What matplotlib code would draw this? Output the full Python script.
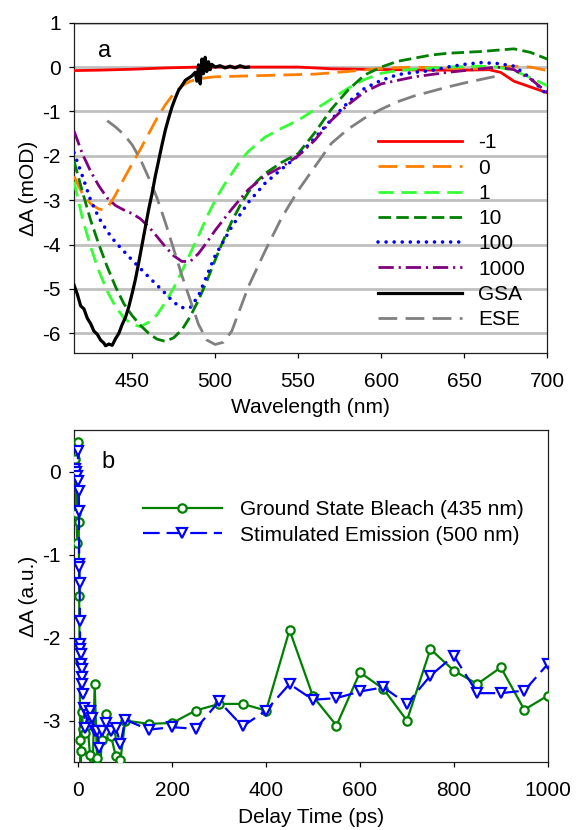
import numpy as np
import matplotlib
matplotlib.use('Agg')
import matplotlib.pyplot as plt

plt.rcParams['font.family'] = ['Liberation Sans', 'DejaVu Sans']
plt.rcParams['font.size'] = 15
plt.rcParams['lines.scale_dashes'] = False
plt.rcParams['axes.unicode_minus'] = False

#%% panel a data: transient spectra (mOD)
wl_m1 = [415, 430, 450, 470, 490, 510, 530, 550, 570, 590, 610, 630, 650, 665, 672, 680, 690, 700]
dA_m1 = [-0.08, -0.07, -0.05, -0.02, 0.0, 0.0, 0.0, 0.0, -0.04, -0.05, -0.06, -0.07, -0.07,
         -0.06, -0.12, -0.32, -0.45, -0.58]

wl_0 = [415, 420, 425, 430, 433, 436, 440, 445, 450, 455, 460, 465, 470, 475, 480, 485, 490,
        495, 500, 520, 540, 560, 580, 600, 620, 640, 660, 680, 690, 700]
dA_0 = [-2.46, -2.85, -3.08, -3.2, -3.22, -3.12, -2.88, -2.52, -2.18, -1.85, -1.5, -1.15, -0.85,
        -0.6, -0.42, -0.32, -0.27, -0.24, -0.22, -0.2, -0.18, -0.16, -0.1, -0.03, 0.0, -0.03,
        -0.04, 0.02, 0.0, -0.08]

wl_1 = [415, 420, 425, 430, 435, 440, 445, 450, 455, 460, 465, 470, 475, 480, 485, 490, 495,
        500, 505, 510, 515, 520, 530, 540, 550, 560, 570, 580, 590, 600, 610, 620, 640, 660,
        670, 680, 690, 700]
dA_1 = [-2.58, -3.4, -4.05, -4.6, -5.05, -5.4, -5.65, -5.8, -5.85, -5.75, -5.58, -5.3, -4.98,
        -4.6, -4.2, -3.8, -3.38, -3.0, -2.68, -2.4, -2.12, -1.9, -1.58, -1.38, -1.2, -0.96,
        -0.72, -0.48, -0.28, -0.14, -0.08, -0.05, 0.0, 0.02, 0.0, -0.08, -0.24, -0.42]

wl_10 = [415, 420, 425, 430, 435, 440, 445, 450, 455, 460, 465, 470, 475, 480, 485, 490, 495,
         500, 505, 510, 515, 520, 525, 530, 540, 550, 560, 570, 580, 590, 600, 610, 620, 630,
         640, 650, 660, 670, 680, 690, 700]
dA_10 = [-2.12, -2.8, -3.45, -4.0, -4.5, -4.95, -5.33, -5.6, -5.82, -6.0, -6.13, -6.18, -6.1,
         -5.92, -5.62, -5.25, -4.82, -4.35, -3.9, -3.48, -3.12, -2.82, -2.58, -2.4, -2.15,
         -1.95, -1.48, -0.95, -0.52, -0.18, 0.0, 0.13, 0.2, 0.27, 0.31, 0.33, 0.35, 0.38,
         0.41, 0.33, 0.18]

wl_100 = [415, 420, 425, 430, 435, 440, 450, 460, 470, 475, 480, 485, 490, 495, 500, 510, 520,
          530, 540, 550, 560, 570, 580, 590, 600, 610, 620, 630, 640, 650, 660, 670, 680, 690, 700]
dA_100 = [-1.93, -2.45, -3.0, -3.4, -3.7, -3.95, -4.35, -4.73, -5.1, -5.3, -5.42, -5.42, -5.15,
          -4.7, -4.25, -3.6, -3.05, -2.62, -2.3, -2.0, -1.6, -1.18, -0.8, -0.48, -0.3, -0.17,
          -0.12, -0.08, 0.0, 0.06, 0.1, 0.08, 0.02, -0.25, -0.63]

wl_1000 = [415, 420, 425, 430, 435, 440, 445, 450, 455, 460, 465, 470, 475, 480, 485, 490, 495,
           500, 510, 520, 530, 540, 550, 560, 570, 580, 590, 600, 620, 640, 660, 670, 680, 690, 700]
dA_1000 = [-1.44, -1.95, -2.35, -2.68, -2.95, -3.12, -3.22, -3.3, -3.42, -3.6, -3.82, -4.05,
           -4.25, -4.38, -4.38, -4.2, -3.95, -3.68, -3.2, -2.76, -2.45, -2.25, -2.0, -1.65,
           -1.2, -0.85, -0.56, -0.38, -0.22, -0.12, -0.04, 0.0, -0.06, -0.27, -0.57]

wl_gsa = [415, 417, 419, 421, 423, 425, 427, 429, 431, 433, 434, 436, 438, 440, 442, 444, 446,
          448, 450, 452, 454, 456, 458, 460, 462, 464, 466, 468, 470, 472, 474, 476, 478, 480,
          482, 484, 486, 488, 489, 490, 491, 492, 493, 494, 495, 496, 497, 498, 500, 503, 506,
          509, 512, 515, 518, 520]
dA_gsa = [-4.91, -5.12, -5.38, -5.45, -5.66, -5.78, -5.95, -6.02, -6.15, -6.22, -6.28, -6.24,
          -6.27, -6.12, -6.0, -5.8, -5.64, -5.4, -5.1, -4.78, -4.4, -4.0, -3.6, -3.2, -2.85,
          -2.45, -2.1, -1.75, -1.42, -1.15, -0.9, -0.7, -0.52, -0.42, -0.3, -0.25, -0.2, -0.12,
          -0.32, 0.05, -0.38, 0.18, -0.15, 0.22, -0.1, 0.12, -0.06, 0.06, 0.0, 0.03, -0.02,
          0.02, -0.02, 0.03, -0.01, 0.0]

wl_ese = [435, 440, 445, 450, 455, 460, 465, 470, 475, 480, 485, 490, 495, 500, 505, 510, 515,
          520, 530, 540, 550, 560, 570, 580, 590, 600, 610, 620, 630, 640, 650, 660, 670]
dA_ese = [-1.21, -1.35, -1.52, -1.75, -2.08, -2.5, -2.95, -3.5, -4.1, -4.7, -5.25, -5.8, -6.15,
          -6.25, -6.2, -5.95, -5.45, -4.95, -4.15, -3.4, -2.78, -2.25, -1.72, -1.4, -1.15,
          -0.95, -0.78, -0.65, -0.55, -0.45, -0.36, -0.28, -0.2]

#%% panel b data: kinetics (a.u.)
t_gsb = [-6, -4, -2, 0, 1, 2, 3, 4, 5, 6, 8, 10, 15, 20, 25, 30, 35, 40, 45, 50, 60, 70, 80,
         90, 100, 150, 200, 250, 300, 350, 400, 450, 500, 550, 600, 650, 700, 750, 800, 850,
         900, 950, 1000]
gsb = [0.15, -0.5, -0.86, 0.35, -0.61, -1.5, -2.3, -3.24, -3.8, -3.37, -2.9, -3.1, -3.15,
       -3.05, -3.42, -3.8, -2.56, -3.45, -3.8, -3.23, -2.92, -3.19, -3.43, -3.47, -3.0, -3.04,
       -3.03, -2.88, -2.8, -2.8, -2.88, -1.91, -2.71, -3.06, -2.42, -2.62, -3.0, -2.14, -2.4,
       -2.56, -2.36, -2.87, -2.7]

t_se = [-6, -4, -2, 0, 0.5, 1, 1.5, 2, 2.5, 3, 3.5, 4, 4.5, 5, 6, 7, 8, 9, 10, 12, 15, 20,
        25, 30, 35, 40, 45, 50, 60, 70, 80, 90, 100, 150, 200, 250, 300, 350, 400, 450, 500,
        550, 600, 650, 700, 750, 800, 850, 900, 950, 1000]
se = [0.03, 0.0, -0.05, 0.25, -0.11, -0.23, -0.47, -1.11, -1.15, -1.34, -1.8, -2.08, -2.14,
      -2.2, -2.32, -2.38, -2.48, -2.56, -2.68, -2.85, -3.09, -2.93, -2.89, -2.97, -3.13,
      -3.13, -3.33, -3.13, -3.03, -3.13, -3.09, -3.28, -2.99, -3.11, -3.08, -3.1, -2.77,
      -3.07, -2.88, -2.56, -2.75, -2.73, -2.65, -2.6, -2.8, -2.46, -2.22, -2.67, -2.67,
      -2.64, -2.32]

#%% figure
fig = plt.figure(figsize=(5.76, 8.3), dpi=100)
ax1 = fig.add_axes([0.1285, 0.5743, 0.8215, 0.3984])
ax2 = fig.add_axes([0.1285, 0.0819, 0.8225, 0.4000])

for ax in (ax1, ax2):
    for s in ax.spines.values():
        s.set_linewidth(0.9)
        s.set_color('#202020')
    ax.tick_params(direction='out', length=3.5, width=0.9, labelsize=15,
                   top=False, right=False)
    ax.tick_params(axis='x', pad=10)
    ax.tick_params(axis='y', pad=6)

# panel a
lw = 2.0
ax1.plot(wl_m1, dA_m1, color='#ff0000', lw=lw, label='-1', zorder=3)
ax1.plot(wl_0, dA_0, color='#ff8000', lw=lw, ls=(0, (13.5, 6)), label='0', zorder=3)
ax1.plot(wl_1, dA_1, color='#33ff33', lw=lw, ls=(0, (11, 5.5)), label='1', zorder=3)
ax1.plot(wl_10, dA_10, color='#008000', lw=lw, ls=(0, (9, 3.8)), label='10', zorder=3)
ax1.plot(wl_100, dA_100, color='#0000ff', lw=2.6, ls=(0, (0.01, 5.8)),
         dash_capstyle='round', label='100', zorder=3)
ax1.plot(wl_1000, dA_1000, color='#800080', lw=lw, ls=(0, (11, 3.5, 1.6, 3.5)),
         label='1000', zorder=3)
ax1.plot(wl_gsa, dA_gsa, color='black', lw=2.3, label='GSA', zorder=4)
ax1.plot(wl_ese, dA_ese, color='#808080', lw=lw, ls=(0, (13.5, 6)), label='ESE', zorder=3)

ax1.set_xlim(415, 700)
ax1.set_ylim(-6.45, 1)
ax1.set_xticks([450, 500, 550, 600, 650, 700])
ax1.set_yticks([1, 0, -1, -2, -3, -4, -5, -6])
ax1.yaxis.grid(True, color='#c0c0c0', lw=2)
ax1.set_axisbelow(True)
ax1.set_xlabel('Wavelength (nm)', fontsize=15, labelpad=5)
ax1.set_ylabel('ΔA (mOD)', fontsize=15, labelpad=3)
ax1.text(0.051, 0.897, 'a', transform=ax1.transAxes, fontsize=17, va='baseline')
ax1.legend(loc='upper left', bbox_to_anchor=(0.643, 0.665), frameon=False, fontsize=15,
           handlelength=4.0, handletextpad=0.8, labelspacing=0.30, borderpad=0,
           borderaxespad=0)

# panel b
ax2.plot(t_gsb, gsb, color='#008000', lw=1.6, marker='o', ms=6, mfc='white', mew=1.6,
         label='Ground State Bleach (435 nm)', zorder=3)
ax2.plot(t_se, se, color='#0000ff', lw=1.6, ls=(0, (12, 5)), marker='v', ms=7, mfc='white',
         mew=1.6, label='Stimulated Emission (500 nm)', zorder=4)
ax2.set_xlim(-9, 1000)
ax2.set_ylim(-3.5, 0.5)
ax2.set_xticks([0, 200, 400, 600, 800, 1000])
ax2.set_yticks([0, -1, -2, -3])
ax2.set_xlabel('Delay Time (ps)', fontsize=15, labelpad=6)
ax2.set_ylabel('ΔA (a.u.)', fontsize=15, labelpad=3)
ax2.text(0.058, 0.885, 'b', transform=ax2.transAxes, fontsize=17, va='baseline')
ax2.legend(loc='upper left', bbox_to_anchor=(0.145, 0.788), frameon=False, fontsize=15,
           handlelength=3.8, handletextpad=0.85, labelspacing=0.30, borderpad=0,
           borderaxespad=0)

fig.savefig('out.png', dpi=100)
